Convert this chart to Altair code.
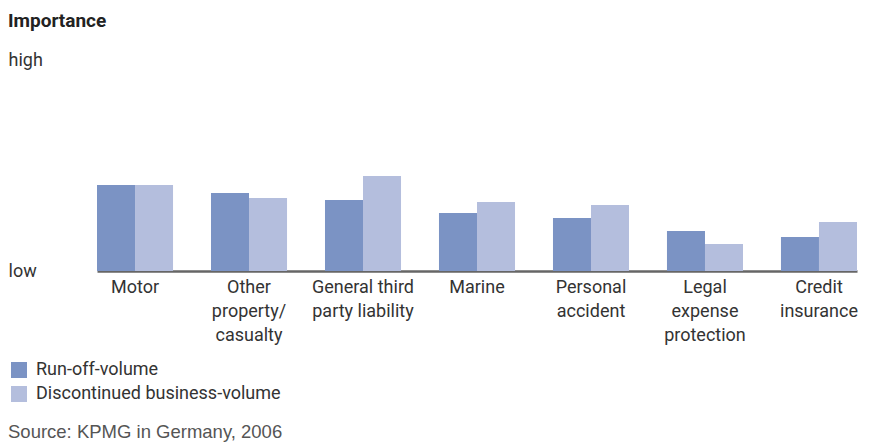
import altair as alt
import pandas as pd

# Lines of business (label line breaks marked with \n)
categories = [
    "Motor",
    "Other\nproperty/\ncasualty",
    "General third\nparty liability",
    "Marine",
    "Personal\naccident",
    "Legal\nexpense\nprotection",
    "Credit\ninsurance",
]
series = ["Run-off-volume", "Discontinued business-volume"]

# Importance on a 0 (low) to 10 (high) scale
run_off = [4.08, 3.70, 3.36, 2.75, 2.51, 1.90, 1.61]
discontinued = [4.08, 3.46, 4.50, 3.27, 3.13, 1.28, 2.32]

colors = ["#7b93c4", "#b4bedd"]
FONT = "Roboto"
TEXT = "#333333"
FS = 18

rows = []
for c, a, b in zip(categories, run_off, discontinued):
    rows.append({"category": c, "series": series[0], "value": a})
    rows.append({"category": c, "series": series[1], "value": b})
df = pd.DataFrame(rows)

bars = alt.Chart(df).mark_bar(stroke=None).encode(
    x=alt.X(
        "category:N",
        sort=categories,
        scale=alt.Scale(range=[28, 788], paddingInner=0.333, paddingOuter=0),
        axis=alt.Axis(
            title=None,
            labelAngle=0,
            labelExpr="split(datum.label, '\\n')",
            labelFont=FONT,
            labelFontSize=FS,
            labelLineHeight=24,
            labelColor=TEXT,
            labelBaseline="top",
            labelPadding=7,
            labelLimit=0,
            ticks=False,
            domainColor="#666666",
            domainWidth=2.5,
        ),
    ),
    xOffset=alt.XOffset("series:N", sort=series),
    y=alt.Y(
        "value:Q",
        scale=alt.Scale(domain=[0, 10], nice=False),
        axis=alt.Axis(
            title=None,
            values=[0, 10],
            labelExpr="datum.value == 10 ? 'high' : 'low'",
            labelFont=FONT,
            labelFontSize=FS,
            labelColor=TEXT,
            labelAlign="left",
            labelBaseline="middle",
            labelPadding=61,
            ticks=False,
            domain=False,
            grid=False,
        ),
    ),
    color=alt.Color(
        "series:N",
        sort=series,
        scale=alt.Scale(domain=series, range=colors),
        legend=alt.Legend(
            title=None,
            orient="none",
            legendX=-59,
            legendY=301,
            direction="vertical",
            symbolType="square",
            symbolSize=256,
            symbolStrokeWidth=0,
            symbolOpacity=1,
            labelFont=FONT,
            labelFontSize=FS,
            labelColor=TEXT,
            labelOffset=8,
            labelLimit=0,
            rowPadding=6,
            padding=0,
        ),
    ),
)

title = alt.Chart(pd.DataFrame({"t": ["Importance"]})).mark_text(
    font=FONT, fontSize=19, fontWeight="bold", color="#222222",
    align="left", baseline="alphabetic",
).encode(text="t:N", x=alt.value(-61), y=alt.value(-33))

source = alt.Chart(pd.DataFrame({"t": ["Source: KPMG in Germany, 2006"]})).mark_text(
    font="Liberation Sans", fontSize=18.5, color="#555555",
    align="left", baseline="alphabetic",
).encode(text="t:N", x=alt.value(-61), y=alt.value(378))

chart = (
    alt.layer(bars, title, source)
    .properties(
        width=809,
        height=211,
        padding={"left": 69, "top": 60, "right": 0, "bottom": 171},
        autosize=alt.AutoSizeParams(type="none"),
        background="white",
    )
    .configure_view(stroke=None)
)

chart.save("out.html", embed_options={"renderer": "svg", "actions": False})
